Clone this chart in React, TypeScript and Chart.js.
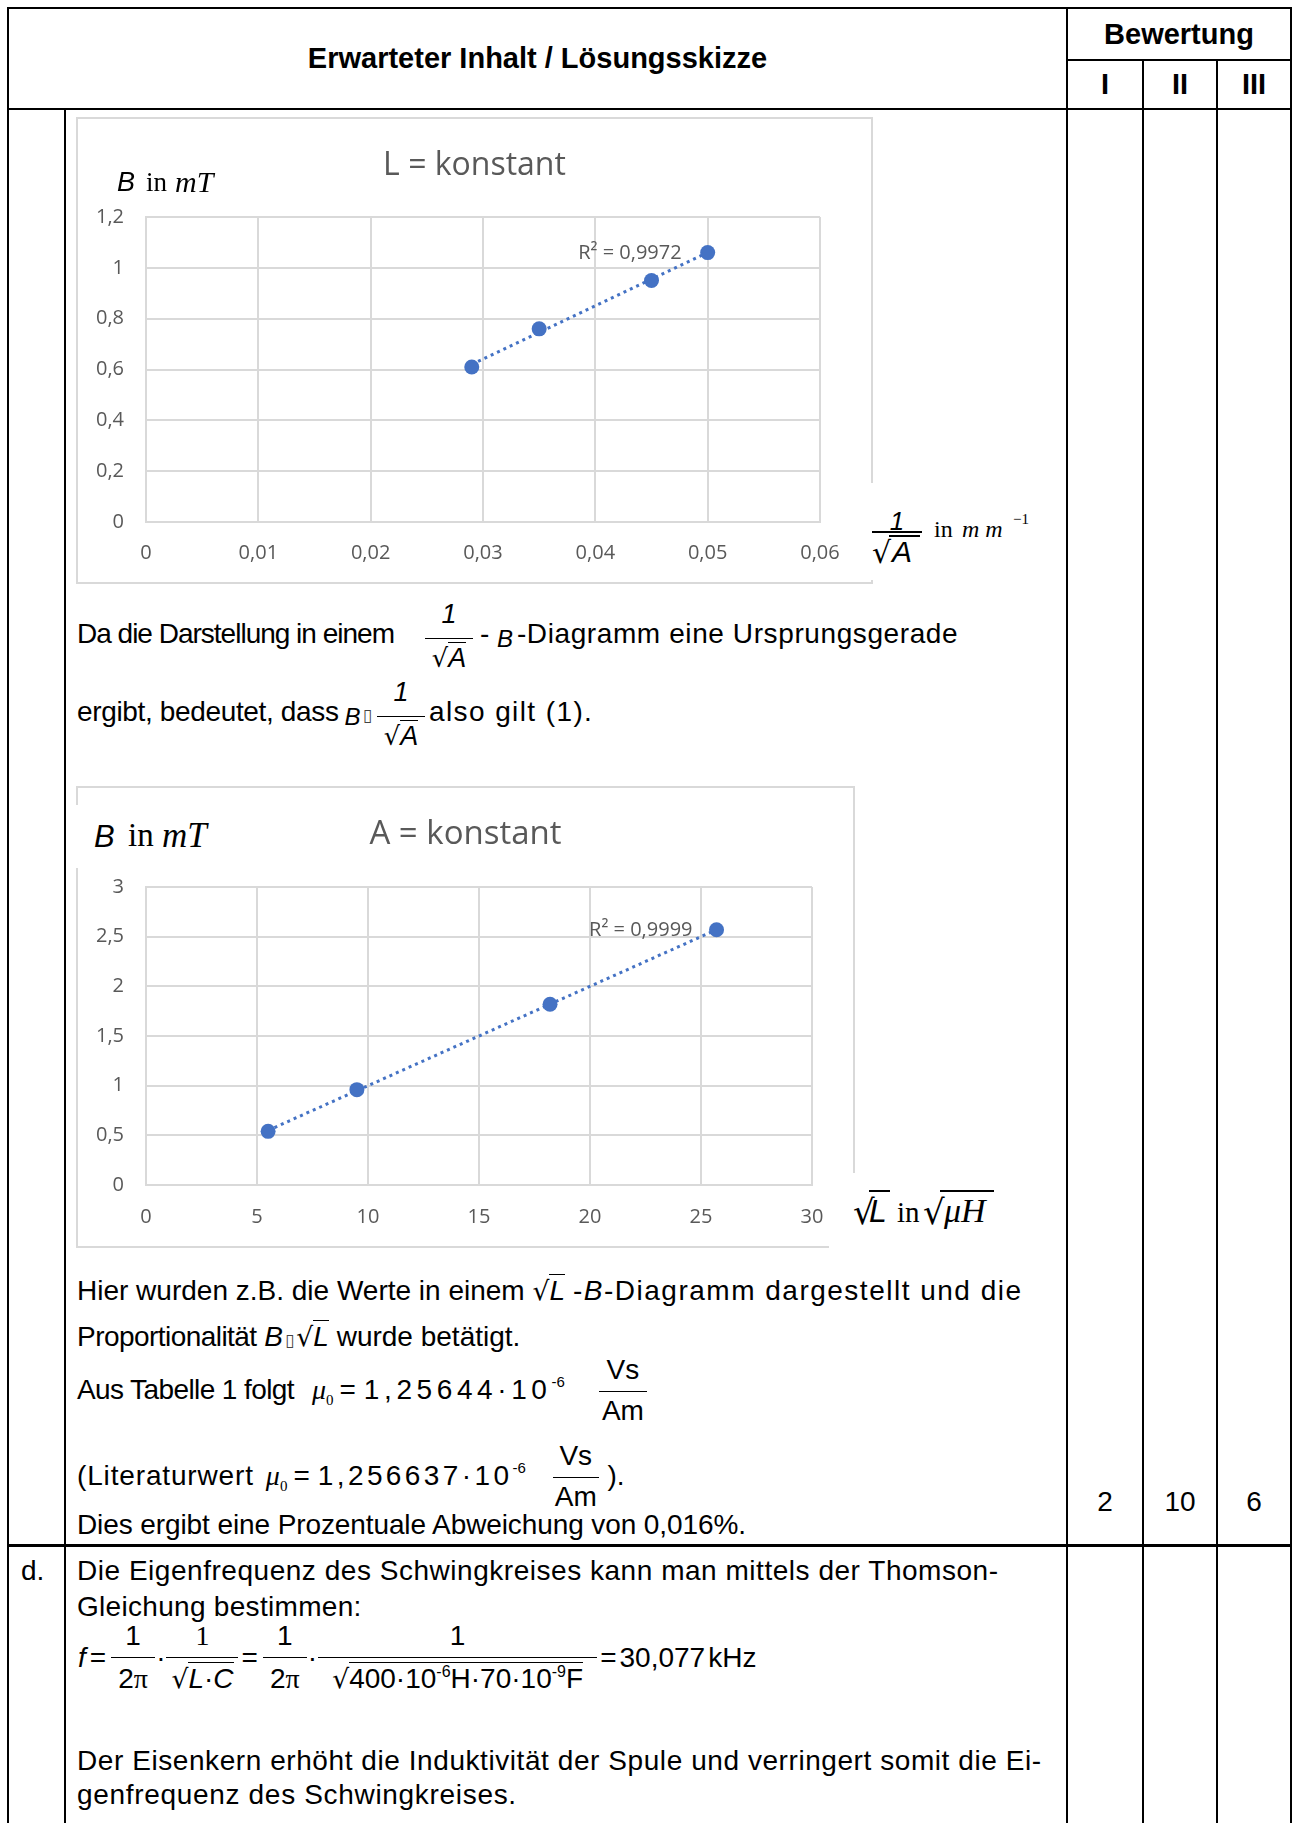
import React, { useEffect, useRef } from 'react';
import { Chart, registerables } from 'chart.js';

Chart.register(...registerables);

const SANS = '"Liberation Sans", Arial, Helvetica, sans-serif';
const SERIF = '"Liberation Serif", "Times New Roman", serif';
const OPEN = '"Open Sans", "Noto Sans", sans-serif';
const RAD = '"DejaVu Sans", sans-serif';
const BLUE = '#4472C4';
const GRID = '#d9d9d9';
const AXIS_TEXT = '#595959';
const BODY = 28;

// ---------- Chart 1: L = konstant ----------
const lTitle = 'L = konstant';
const lX = [0.029, 0.035, 0.045, 0.05];
const lY = [0.61, 0.76, 0.95, 1.06];
const lTrendX = [0.029, 0.05];
const lTrendY = [0.62, 1.06];
const lR2 = 'R² = 0,9972';
const lXTicks = [0, 0.01, 0.02, 0.03, 0.04, 0.05, 0.06];
const lXLabels = ['0', '0,01', '0,02', '0,03', '0,04', '0,05', '0,06'];
const lYTicks = [0, 0.2, 0.4, 0.6, 0.8, 1, 1.2];
const lYLabels = ['0', '0,2', '0,4', '0,6', '0,8', '1', '1,2'];

// ---------- Chart 2: A = konstant ----------
const aTitle = 'A = konstant';
const aX = [5.5, 9.5, 18.2, 25.7];
const aY = [0.54, 0.96, 1.82, 2.57];
const aTrendX = [5.5, 25.7];
const aTrendY = [0.55, 2.57];
const aR2 = 'R² = 0,9999';
const aXTicks = [0, 5, 10, 15, 20, 25, 30];
const aXLabels = ['0', '5', '10', '15', '20', '25', '30'];
const aYTicks = [0, 0.5, 1, 1.5, 2, 2.5, 3];
const aYLabels = ['0', '0,5', '1', '1,5', '2', '2,5', '3'];

const scores = ['2', '10', '6'];

function ascOf(family: string) {
  if (family === SERIF) return 0.8375;
  if (family === OPEN) return 0.888;
  if (family === RAD) return 0.846;
  return 0.8465;
}

function Line({ x, base, size = BODY, family = SANS, weight, italic, children, style }: any) {
  const asc = ascOf(family) * size;
  return (
    <div
      style={{
        position: 'absolute',
        left: x,
        top: base - asc,
        fontFamily: family,
        fontSize: size,
        lineHeight: `${size}px`,
        whiteSpace: 'nowrap',
        fontWeight: weight,
        fontStyle: italic ? 'italic' : undefined,
        color: '#000',
        ...style,
      }}
    >
      {children}
    </div>
  );
}

function S({ f, s, i, dy, ls, children }: any) {
  return (
    <span
      style={{
        fontFamily: f,
        fontSize: s,
        fontStyle: i ? 'italic' : undefined,
        position: dy ? 'relative' : undefined,
        top: dy,
        letterSpacing: ls,
        lineHeight: 0,
      }}
    >
      {children}
    </span>
  );
}

function Sp({ w }: any) {
  return <span style={{ display: 'inline-block', width: w, height: 0 }} />;
}

function Rad({ s, children, f }: any) {
  return (
    <span style={{ lineHeight: 0, whiteSpace: 'nowrap', letterSpacing: 0 }}>
      <span style={{ fontFamily: RAD, fontSize: s * 0.95, lineHeight: 0 }}>√</span>
      <span style={{ borderTop: '1.5px solid #000', lineHeight: 0, fontSize: s, fontFamily: f }}>{children}</span>
    </span>
  );
}

function Tofu() {
  return (
    <span style={{ fontFamily: RAD, fontSize: 17, color: '#444', lineHeight: 0, margin: '0 2px', letterSpacing: 0 }}>▯</span>
  );
}

function Frac({ w, num, den, size = BODY, bar = 4, numBase = 15, denBase = 24, family = SANS }: any) {
  const asc = ascOf(family) * size;
  const part: any = {
    position: 'absolute',
    left: 0,
    width: w,
    textAlign: 'center',
    whiteSpace: 'nowrap',
    fontSize: size,
    lineHeight: `${size}px`,
    fontFamily: family,
    letterSpacing: 0,
  };
  return (
    <span style={{ display: 'inline-block', position: 'relative', width: w, height: 0, lineHeight: 0 }}>
      <span style={{ ...part, top: -numBase - asc }}>{num}</span>
      <span style={{ position: 'absolute', left: 1, width: w - 2, top: -bar - 0.75, height: 0, borderTop: '1.5px solid #000' }} />
      <span style={{ ...part, top: denBase - asc }}>{den}</span>
    </span>
  );
}

function ScatterChart(p: any) {
  const ref = useRef<HTMLCanvasElement>(null);
  useEffect(() => {
    const c = ref.current;
    if (!c) return;
    const L = p.plot.l - p.left;
    const T = p.plot.t - p.top;
    const R = p.plot.r - p.left;
    const B = p.plot.b - p.top;
    const labelPlugin = {
      id: 'r2label',
      afterDatasetsDraw(chart: any) {
        const meta = chart.getDatasetMeta(0);
        const pts = meta.data;
        const last = pts[pts.length - 1];
        if (!last) return;
        const ctx = chart.ctx;
        ctx.save();
        ctx.font = `${p.tickSize}px ${OPEN}`;
        ctx.fillStyle = AXIS_TEXT;
        ctx.textAlign = 'right';
        ctx.textBaseline = 'middle';
        ctx.fillText(p.r2, last.x - p.r2dx, last.y + p.r2dy);
        ctx.restore();
      },
    };
    const tickFont = { family: OPEN, size: p.tickSize };
    const chart = new Chart(c, {
      type: 'scatter',
      data: {
        datasets: [
          {
            label: 'Messwerte',
            data: p.xs.map((x: number, i: number) => ({ x, y: p.ys[i] })),
            pointRadius: 7.5,
            pointHoverRadius: 7.5,
            backgroundColor: BLUE,
            borderColor: BLUE,
            borderWidth: 0,
            showLine: false,
          },
          {
            label: 'Trend',
            data: p.tx.map((x: number, i: number) => ({ x, y: p.ty[i] })),
            showLine: true,
            pointRadius: 0,
            pointHoverRadius: 0,
            borderColor: BLUE,
            backgroundColor: BLUE,
            borderWidth: 3,
            borderDash: [3, 4],
            fill: false,
          },
        ],
      },
      options: {
        animation: false,
        responsive: false,
        devicePixelRatio: 1,
        layout: { padding: { left: 0, top: T, right: p.width - R, bottom: 0 } },
        plugins: { legend: { display: false }, tooltip: { enabled: false }, title: { display: false } },
        scales: {
          x: {
            type: 'linear',
            min: p.xMin,
            max: p.xMax,
            afterFit: (s: any) => {
              s.height = p.height - B;
            },
            afterBuildTicks: (s: any) => {
              s.ticks = p.xTicks.map((v: number) => ({ value: v }));
            },
            ticks: {
              callback: (_v: any, i: number) => p.xLabels[i],
              font: tickFont,
              color: AXIS_TEXT,
              padding: p.xPad,
              maxRotation: 0,
              autoSkip: false,
            },
            grid: { color: GRID, lineWidth: 2, drawTicks: false },
            border: { color: GRID, width: 2 },
          },
          y: {
            type: 'linear',
            min: p.yMin,
            max: p.yMax,
            afterFit: (s: any) => {
              s.width = L;
            },
            afterBuildTicks: (s: any) => {
              s.ticks = p.yTicks.map((v: number) => ({ value: v }));
            },
            ticks: {
              callback: (_v: any, i: number) => p.yLabels[i],
              font: tickFont,
              color: AXIS_TEXT,
              padding: p.yPad,
              autoSkip: false,
            },
            grid: { color: GRID, lineWidth: 2, drawTicks: false },
            border: { color: GRID, width: 2 },
          },
        },
      } as any,
      plugins: [labelPlugin],
    });
    return () => chart.destroy();
  }, []);
  return (
    <canvas
      ref={ref}
      width={p.width}
      height={p.height}
      style={{ position: 'absolute', left: p.left, top: p.top, width: p.width, height: p.height }}
    />
  );
}

function HLine({ x1, x2, y, h = 2 }: any) {
  return <div style={{ position: 'absolute', left: x1, top: y, width: x2 - x1, height: h, background: '#000' }} />;
}
function VLine({ x, y1, y2, w = 2 }: any) {
  return <div style={{ position: 'absolute', left: x, top: y1, width: w, height: y2 - y1, background: '#000' }} />;
}
function White({ x, y, w, h }: any) {
  return <div style={{ position: 'absolute', left: x, top: y, width: w, height: h, background: '#fff' }} />;
}
function Bar({ x, y, w, h = 1.5 }: any) {
  return <div style={{ position: 'absolute', left: x, top: y, width: w, height: h, background: '#000' }} />;
}

export default function App() {
  const mu = (
    <>
      <S f={SERIF} i s={28} ls={0}>μ</S>
      <S f={SERIF} s={15} dy={6} ls={0}>0</S>
    </>
  );
  const fracA = (
    <Frac
      w={50}
      size={27}
      num={<S i>1</S>}
      den={<Rad s={27}><S i>A</S></Rad>}
      bar={5}
      numBase={19}
      denBase={25}
    />
  );
  return (
    <div
      style={{
        position: 'absolute',
        left: 0,
        top: 0,
        width: 1292,
        height: 1823,
        background: '#fff',
        overflow: 'hidden',
        fontFamily: SANS,
      }}
    >
      {/* table grid */}
      <HLine x1={7} x2={1292} y={7} />
      <HLine x1={7} x2={1292} y={108} />
      <HLine x1={1066} x2={1292} y={59} />
      <HLine x1={7} x2={1292} y={1544} h={3} />
      <VLine x={7} y1={7} y2={1823} />
      <VLine x={64} y1={108} y2={1823} />
      <VLine x={1066} y1={7} y2={1823} />
      <VLine x={1142} y1={59} y2={1823} />
      <VLine x={1216} y1={59} y2={1823} />
      <VLine x={1290} y1={7} y2={1823} />

      {/* header */}
      <Line x={9} base={69} size={29} weight="bold" style={{ width: 1057, textAlign: 'center' }}>
        Erwarteter Inhalt / Lösungsskizze
      </Line>
      <Line x={1068} base={45} size={29} weight="bold" style={{ width: 222, textAlign: 'center' }}>
        Bewertung
      </Line>
      <Line x={1068} base={95} size={29} weight="bold" style={{ width: 74, textAlign: 'center' }}>I</Line>
      <Line x={1144} base={95} size={29} weight="bold" style={{ width: 72, textAlign: 'center' }}>II</Line>
      <Line x={1218} base={95} size={29} weight="bold" style={{ width: 72, textAlign: 'center' }}>III</Line>

      {/* chart 1 */}
      <div style={{ position: 'absolute', left: 76, top: 117, width: 797, height: 467, border: `2px solid ${GRID}`, boxSizing: 'border-box' }} />
      <ScatterChart
        left={77}
        top={118}
        width={795}
        height={465}
        plot={{ l: 146, t: 217, r: 820, b: 522 }}
        xs={lX}
        ys={lY}
        tx={lTrendX}
        ty={lTrendY}
        r2={lR2}
        r2dx={26}
        r2dy={1}
        xMin={0}
        xMax={0.06}
        yMin={0}
        yMax={1.2}
        xTicks={lXTicks}
        xLabels={lXLabels}
        yTicks={lYTicks}
        yLabels={lYLabels}
        xPad={19}
        yPad={22}
        tickSize={20}
      />
      <Line x={77} base={175} size={32} family={OPEN} style={{ width: 795, textAlign: 'center', color: AXIS_TEXT }}>
        {lTitle}
      </Line>
      <Line x={117} base={192} size={27} italic>B</Line>
      <Line x={146} base={192} size={27} family={SERIF}>in</Line>
      <Line x={175} base={192} size={30} family={SERIF} italic>mT</Line>
      <White x={866} y={483} w={175} h={97} />
      <Line x={872} base={530} size={26} italic style={{ width: 50, textAlign: 'center' }}>1</Line>
      <Bar x={872} y={531} w={50} h={2} />
      <Line x={872} base={563} size={30} family={RAD}>√</Line>
      <Bar x={889} y={535} w={31} />
      <Line x={892} base={562} size={30} italic>A</Line>
      <Line x={934} base={537} size={24} family={SERIF}>in</Line>
      <Line x={962} base={537} size={24} family={SERIF} italic style={{ letterSpacing: 6 }}>mm</Line>
      <Line x={1013} base={525} size={15} family={SERIF}>−1</Line>

      {/* paragraph after chart 1 */}
      <Line x={77} base={644}>
        <S ls={-1}>Da die Darstellung in einem</S>
        <Sp w={30} />
        {fracA}
        <Sp w={6} />
        <S ls={0.6}>-</S>
        <Sp w={7} />
        <S i s={24} dy={4}>B</S>
        <Sp w={4} />
        <S ls={0.6}>-Diagramm eine Ursprungsgerade</S>
      </Line>
      <Line x={77} base={722}>
        <S ls={-0.35}>ergibt, bedeutet, dass</S>
        <Sp w={6} />
        <S i s={24} dy={4}>B</S>
        <Tofu />
        <Sp w={2} />
        {fracA}
        <Sp w={3} />
        <S ls={1.4}>also gilt (1).</S>
      </Line>

      {/* chart 2 */}
      <div style={{ position: 'absolute', left: 76, top: 786, width: 779, height: 462, border: `2px solid ${GRID}`, boxSizing: 'border-box' }} />
      <ScatterChart
        left={77}
        top={787}
        width={777}
        height={460}
        plot={{ l: 146, t: 887, r: 812, b: 1185 }}
        xs={aX}
        ys={aY}
        tx={aTrendX}
        ty={aTrendY}
        r2={aR2}
        r2dx={24}
        r2dy={1}
        xMin={0}
        xMax={30}
        yMin={0}
        yMax={3}
        xTicks={aXTicks}
        xLabels={aXLabels}
        yTicks={aYTicks}
        yLabels={aYLabels}
        xPad={20}
        yPad={22}
        tickSize={20}
      />
      <Line x={77} base={844} size={33} family={OPEN} style={{ width: 777, textAlign: 'center', color: AXIS_TEXT }}>
        {aTitle}
      </Line>
      <White x={70} y={805} w={145} h={63} />
      <Line x={94} base={847} size={31} italic>B</Line>
      <Line x={128} base={847} size={33} family={SERIF}>in</Line>
      <Line x={162} base={847} size={35} family={SERIF} italic>mT</Line>
      <White x={829} y={1173} w={175} h={79} />
      <Line x={853} base={1224} size={34} family={RAD}>√</Line>
      <Bar x={869} y={1190} w={21} />
      <Line x={869} base={1222} size={32} italic>L</Line>
      <Line x={897} base={1222} size={29} family={SERIF}>in</Line>
      <Line x={923} base={1224} size={34} family={RAD}>√</Line>
      <Bar x={940} y={1190} w={54} />
      <Line x={944} base={1222} size={34} family={SERIF} italic>μH</Line>

      {/* paragraph after chart 2 */}
      <Line x={77} base={1301}>
        Hier wurden z.B. die Werte in einem <Rad s={28}><S i>L</S></Rad>
        <Sp w={8} />
        <S ls={1.5}>
          -<S i>B</S>-Diagramm dargestellt und die
        </S>
      </Line>
      <Line x={77} base={1347}>
        <S ls={-0.55}>Proportionalität</S> <S i>B</S>
        <Tofu />
        <Rad s={28}><S i>L</S></Rad> wurde betätigt.
      </Line>
      <Line x={77} base={1400}>
        <S ls={-0.6}>Aus Tabelle 1 folgt</S>
        <Sp w={18} />
        {mu}
        <Sp w={6} />=<Sp w={8} />
        <S ls={4.6}>1,25644·10</S>
        <S s={15} dy={-12} ls={0}>-6</S>
        <Sp w={33} />
        <Frac w={50} size={28} num="Vs" den="Am" bar={8} numBase={20} denBase={21} />
      </Line>
      <Line x={77} base={1486}>
        <S ls={0.85}>(Literaturwert</S>
        <Sp w={12} />
        {mu}
        <Sp w={6} />=<Sp w={8} />
        <S ls={3.4}>1,256637·10</S>
        <S s={15} dy={-12} ls={0}>-6</S>
        <Sp w={26} />
        <Frac w={48} size={28} num="Vs" den="Am" bar={8} numBase={20} denBase={21} />
        {' ).'}
      </Line>
      <Line x={77} base={1535}>
        <S ls={-0.1}>Dies ergibt eine Prozentuale Abweichung von 0,016%.</S>
      </Line>

      {/* scores */}
      {scores.map((s, i) => (
        <Line
          key={s + i}
          x={[1068, 1144, 1218][i]}
          base={1512}
          style={{ width: [74, 72, 72][i], textAlign: 'center' }}
        >
          {s}
        </Line>
      ))}

      {/* part d */}
      <Line x={21} base={1581}>d.</Line>
      <Line x={77} base={1581}>
        <S ls={0.53}>Die Eigenfrequenz des Schwingkreises kann man mittels der Thomson-</S>
      </Line>
      <Line x={77} base={1617}>
        <S ls={0.3}>Gleichung bestimmen:</S>
      </Line>
      <Line x={78} base={1668}>
        <S i>f</S>
        <Sp w={4} />=<Sp w={4} />
        <Frac w={46} num="1" den={<>2<S f={SERIF}>π</S></>} bar={10} numBase={22} denBase={21} />
        ·
        <Frac
          w={74}
          num={<S f={SERIF}>1</S>}
          den={<Rad s={28}><S i>L</S>·<S i>C</S></Rad>}
          bar={10}
          numBase={22}
          denBase={21}
        />
        <Sp w={2} />=<Sp w={4} />
        <Frac w={46} num="1" den={<>2<S f={SERIF}>π</S></>} bar={10} numBase={22} denBase={21} />
        ·
        <Frac
          w={281}
          num="1"
          den={
            <Rad s={28}>
              400·10<S s={16} dy={-11}>-6</S>H·70·10<S s={16} dy={-11}>-9</S>F
            </Rad>
          }
          bar={10}
          numBase={22}
          denBase={21}
        />
        <Sp w={2} />=<Sp w={3} />30,077<Sp w={3} />kHz
      </Line>
      <Line x={77} base={1771}>
        <S ls={0.57}>Der Eisenkern erhöht die Induktivität der Spule und verringert somit die Ei-</S>
      </Line>
      <Line x={77} base={1805}>
        <S ls={0.68}>genfrequenz des Schwingkreises.</S>
      </Line>
    </div>
  );
}
